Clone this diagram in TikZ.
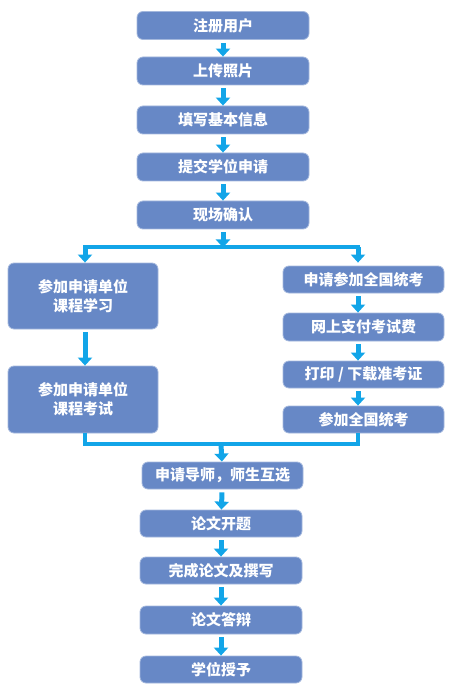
\documentclass[tikz,border=0pt]{standalone}
\usepackage{fontspec}
\setmainfont{Noto Sans CJK SC}
\usepackage{tikz}
\usetikzlibrary{arrows.meta}
\usetikzlibrary{positioning}
\usetikzlibrary{calc}

\definecolor{boxblue}{HTML}{6788C6}
\definecolor{flowblue}{HTML}{12A5E8}

\tikzset{
  stepbox/.style={draw=boxblue!60!white, line width=0.8pt, fill=boxblue, rounded corners=6pt,
    text=white, font=\fontsize{15}{19}\selectfont\bfseries, align=center, inner sep=0pt},
  flow/.style={line width=5pt, draw=flowblue, -{Triangle[width=14pt,length=8pt]}, shorten <=3pt},
  bar/.style={line width=4pt, draw=flowblue}
}

\begin{document}
\begin{tikzpicture}[x=1pt,y=-1pt]
      \useasboundingbox (0,0) rectangle (450,692);

      \node[stepbox, minimum width=172pt, minimum height=28pt] (reg)     at (223, 25.5)  {注册用户};
      \node[stepbox, minimum width=172pt, minimum height=28pt] (photo)   at (223, 71)    {上传照片};
      \node[stepbox, minimum width=172pt, minimum height=28pt] (info)    at (223, 120)   {填写基本信息};
      \node[stepbox, minimum width=172pt, minimum height=28pt] (submit)  at (223, 167)   {提交学位申请};
      \node[stepbox, minimum width=172pt, minimum height=28pt] (confirm) at (223, 215)   {现场确认};

      \node[stepbox, minimum width=150pt, minimum height=66pt] (study) at (83, 296)  {参加申请单位\\课程学习};
      \node[stepbox, minimum width=150pt, minimum height=67pt] (exam)  at (83, 399.5){参加申请单位\\课程考试};

      \node[stepbox, minimum width=161pt, minimum height=27pt] (apply)   at (363.5, 279.5) {申请参加全国统考};
      \node[stepbox, minimum width=161pt, minimum height=28pt] (pay)     at (363.5, 327)   {网上支付考试费};
      \node[stepbox, minimum width=161pt, minimum height=27pt] (ticket)  at (363.5, 374.5) {打印 / 下载准考证};
      \node[stepbox, minimum width=161pt, minimum height=27pt] (unified) at (363.5, 419.5) {参加全国统考};

      \node[stepbox, minimum width=161pt, minimum height=27pt] (tutor)    at (222.5, 475.5) {申请导师，师生互选};
      \node[stepbox, minimum width=162pt, minimum height=27pt] (proposal) at (221, 523.5)   {论文开题};
      \node[stepbox, minimum width=162pt, minimum height=27pt] (thesis)   at (221, 570.5)   {完成论文及撰写};
      \node[stepbox, minimum width=162pt, minimum height=28pt] (defense)  at (221, 620)     {论文答辩};
      \node[stepbox, minimum width=162pt, minimum height=27pt] (degree)   at (221, 669.5)   {学位授予};

      \coordinate (split) at (223, 247.5);
      \coordinate (splitL) at (85, 247.5);
      \coordinate (splitR) at (358, 247.5);
      \coordinate (joinL) at (85, 444);
      \coordinate (joinR) at (358, 444);
      \coordinate (join) at (221, 444);

      \draw[flow] (reg) -- (photo);
      \draw[flow] (photo) -- (info);
      \draw[flow] (info) -- (submit);
      \draw[flow] (submit) -- (confirm);
      \draw[flow] (confirm) -- (split);

      \draw[bar] ($(splitL)+(-2,0)$) -- ($(splitR)+(2,0)$);
      \draw[flow, shorten <=0pt] (splitL) -- (splitL |- study.north);
      \draw[flow, shorten <=0pt] (splitR) -- ($(splitR |- apply.north)+(0,-3)$);

      \draw[flow] (study.south -| splitL) -- (exam.north -| splitL);
      \draw[flow] (apply.south -| splitR) -- (pay.north -| splitR);
      \draw[flow] (pay.south -| splitR) -- (ticket.north -| splitR);
      \draw[flow] (ticket.south -| splitR) -- (unified.north -| splitR);

      \draw[bar] (exam.south -| splitL) |- (joinR) -- (unified.south -| splitR);
      \draw[flow, shorten <=0pt] (join) -- (tutor);

      \draw[flow] (tutor) -- (proposal);
      \draw[flow] (proposal) -- (thesis);
      \draw[flow] (thesis) -- (defense);
      \draw[flow] (defense) -- (degree);
    \end{tikzpicture}
\end{document}
